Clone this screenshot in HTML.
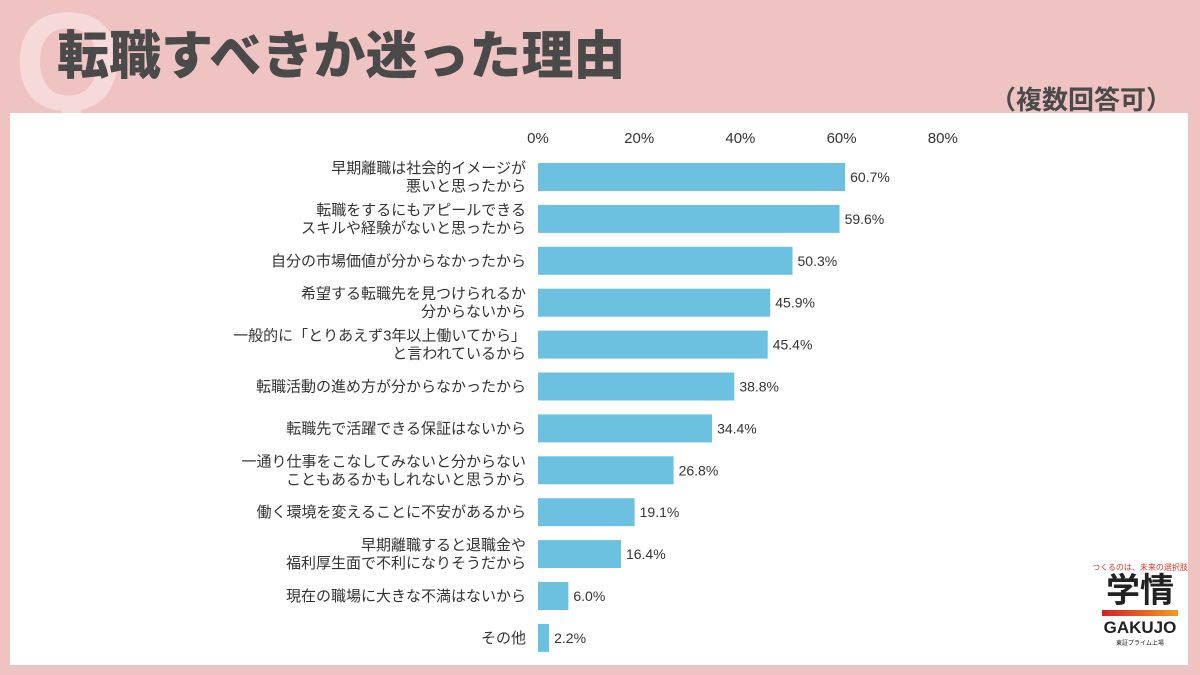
<!DOCTYPE html>
<html><head><meta charset="utf-8"><style>
body{margin:0;width:1200px;height:675px;background:#f0c3c3;position:relative;overflow:hidden;font-family:"Liberation Sans","Noto Sans CJK JP",sans-serif}
.q{position:absolute;left:14px;top:-8px;font-size:140px;font-weight:bold;color:#f6d9d9;line-height:1}
.title{position:absolute;left:57px;top:26px;font-size:52px;font-weight:900;color:#4a4a4a;letter-spacing:0px;line-height:1.2}
.sub{position:absolute;right:28px;top:80px;font-size:26px;font-weight:bold;color:#4a4a4a}
.panel{position:absolute;left:10px;top:113px;width:1178px;height:552px;background:#fff}
svg{position:absolute;left:0;top:0}
.logo{position:absolute;left:1090px;top:562px;width:100px;text-align:center;color:#222}
</style></head><body>
<div class="q">Q</div>
<div class="title">転職すべきか迷った理由</div>
<div class="sub">（複数回答可）</div>
<div class="panel"></div>
<svg id="c" width="1200" height="675"></svg>
<div class="logo">
<div style="font-size:8px;color:#e0352b">つくるのは、未来の選択肢</div>
<div style="font-size:34px;font-weight:bold;line-height:1.1">学情</div>
<div style="height:6px;margin:0 12px;background:linear-gradient(90deg,#d81f26,#f39a1e)"></div>
<div style="font-size:17px;font-weight:bold;margin-top:2px">GAKUJO</div>
<div style="font-size:6px">東証プライム上場</div>
</div>
<script>
const categories=[["早期離職は社会的イメージが","悪いと思ったから"],["転職をするにもアピールできる","スキルや経験がないと思ったから"],["自分の市場価値が分からなかったから"],["希望する転職先を見つけられるか","分からないから"],["一般的に「とりあえず3年以上働いてから」","と言われているから"],["転職活動の進め方が分からなかったから"],["転職先で活躍できる保証はないから"],["一通り仕事をこなしてみないと分からない","こともあるかもしれないと思うから"],["働く環境を変えることに不安があるから"],["早期離職すると退職金や","福利厚生面で不利になりそうだから"],["現在の職場に大きな不満はないから"],["その他"]];
const values=[60.7,59.6,50.3,45.9,45.4,38.8,34.4,26.8,19.1,16.4,6.0,2.2];
const ticks=[0,20,40,60,80];
const svg=document.getElementById('c');const NS='http://www.w3.org/2000/svg';
const x=v=>538+v*5.06;const y=i=>177+i*41.9;
function mk(t,a){const e=document.createElementNS(NS,t);for(const k in a)e.setAttribute(k,a[k]);svg.appendChild(e);return e;}
ticks.forEach(t=>{const e=mk('text',{x:x(t),y:143,'text-anchor':'middle','font-size':15,fill:'#333'});e.textContent=t+'%';

});
values.forEach((v,i)=>{const r=mk('rect',{x:x(0),y:y(i)-14,width:x(v)-x(0),height:28,fill:'#6cc1e1'});


const l=mk('text',{x:x(v)+5,y:y(i)+5,'font-size':14,fill:'#333'});l.textContent=v.toFixed(1)+'%';


const c=categories[i];const g=mk('text',{x:526,'text-anchor':'end','font-size':15,fill:'#333'});


c.forEach((s,j)=>{const ts=document.createElementNS(NS,'tspan');ts.setAttribute('x',526);ts.setAttribute('y',y(i)+5+(j-(c.length-1)/2)*18);ts.textContent=s;g.appendChild(ts);});});
</script>
</body></html>
